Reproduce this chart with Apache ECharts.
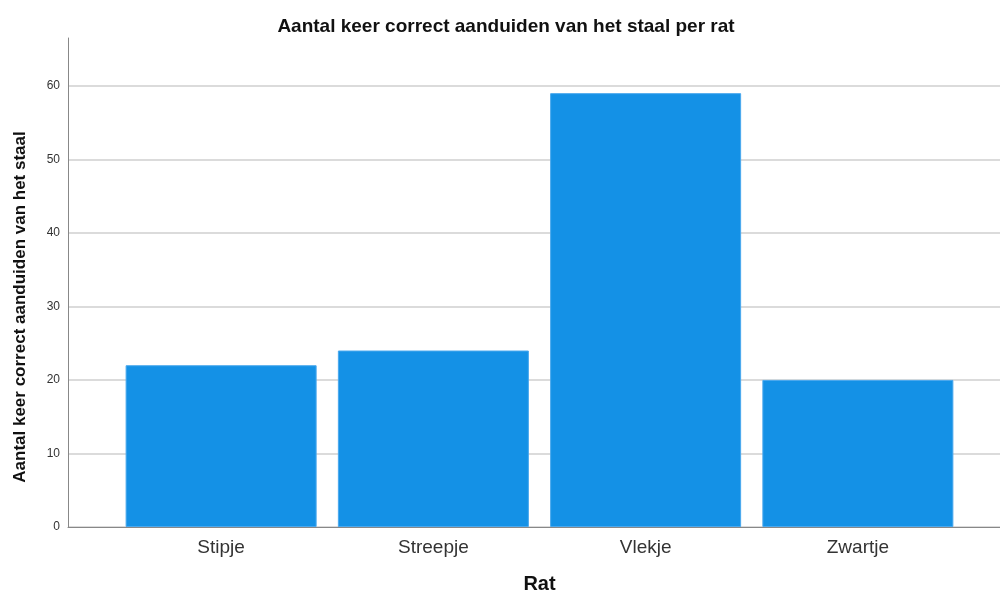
<!DOCTYPE html>
<html>
<head>
<meta charset="utf-8">
<script src="https://cdn.jsdelivr.net/npm/echarts@6/dist/echarts.min.js"></script>
<style>
html, body { margin: 0; padding: 0; background: #fff; }
#main { width: 1000px; height: 594px; }
</style>
</head>
<body>
<div id="main"></div>
<script>
const categories = ['Stipje', 'Streepje', 'Vlekje', 'Zwartje']
const counts = [22, 24, 59, 20]
const yMax = 66.5
const yStep = 10

const chart = echarts.init(document.getElementById('main'))
const font = '"Liberation Sans", Arial, sans-serif'

chart.setOption({
	animation: false,
	title: {
		text: 'Aantal keer correct aanduiden van het staal per rat',
		left: 501,
		top: 12,
		textAlign: 'center',
		textStyle: { fontFamily: font, fontSize: 19, fontWeight: 'bold', color: '#111' }
	},
	graphic: [{
		type: 'text',
		x: 12,
		y: 307,
		rotation: Math.PI / 2,
		style: {
			text: 'Aantal keer correct aanduiden van het staal',
			font: 'bold 17px ' + font,
			fill: '#111',
			align: 'center',
			verticalAlign: 'top'
		}
	}],
	grid: [
		{ left: 68, right: 0, top: 38, bottom: 67, outerBoundsMode: 'none' },
		{ left: 115, right: 36, top: 38, bottom: 67, outerBoundsMode: 'none' }
	],
	xAxis: [{
		gridIndex: 0,
		type: 'value',
		min: 0,
		max: 1,
		axisLine: { show: true, lineStyle: { color: '#888', width: 1 } },
		axisTick: { show: false },
		axisLabel: { show: false },
		splitLine: { show: false }
	}, {
		gridIndex: 1,
		type: 'category',
		data: categories,
		axisLine: { show: false },
		axisTick: { show: false },
		axisLabel: { fontFamily: font, fontSize: 19, color: '#333', margin: 11 },
		name: 'Rat',
		nameLocation: 'middle',
		nameGap: 47,
		nameTextStyle: { fontFamily: font, fontSize: 20, fontWeight: 'bold', color: '#111' }
	}],
	yAxis: [{
		gridIndex: 0,
		type: 'value',
		min: 0,
		max: yMax,
		interval: yStep,
		axisLine: { show: true, lineStyle: { color: '#888', width: 1 } },
		axisTick: { show: false },
		axisLabel: { fontFamily: font, fontSize: 12, color: '#333', margin: 8, showMaxLabel: false },
		splitLine: { show: true, showMaxLine: false, lineStyle: { color: '#cfcfcf', width: 1.5 } }
	}, {
		gridIndex: 1,
		type: 'value',
		min: 0,
		max: yMax,
		show: false,
		splitLine: { show: false }
	}],
	series: [{
		type: 'bar',
		xAxisIndex: 1,
		yAxisIndex: 1,
		data: counts,
		barCategoryGap: '10%',
		itemStyle: { color: '#1491e6', borderColor: '#4aa8ee', borderWidth: 1 }
	}]
})
</script>
</body>
</html>
